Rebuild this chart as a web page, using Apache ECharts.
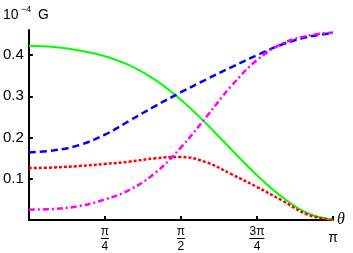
<!DOCTYPE html>
<html><head><meta charset="utf-8">
<script src="https://cdn.jsdelivr.net/npm/echarts@6/dist/echarts.min.js"></script>
<style>html,body{margin:0;padding:0;background:#fff}#c{width:353px;height:253px}</style>
</head><body><div id="c"></div>
<script>
// theta values in units of pi/12
const thetaSteps = [0,1,2,3,4,5,6,7,8,9,10,11,12];
const green   = [0.4225,0.4195,0.4115,0.3975,0.3745,0.3395,0.2915,0.2335,0.1705,0.1085,0.0555,0.0165,0.0];
const blue    = [0.164,0.169,0.182,0.207,0.242,0.277,0.310,0.341,0.371,0.400,0.426,0.444,0.454];
const red     = [0.126,0.1275,0.131,0.136,0.142,0.150,0.153,0.140,0.111,0.080,0.047,0.013,0.0];
const magenta = [0.025,0.027,0.034,0.050,0.074,0.115,0.176,0.250,0.326,0.388,0.428,0.447,0.455];
const yTicks = [0.1,0.2,0.3,0.4];
const xTickLabels = {1:'{n|π}\n{bar| }\n{d|4}',2:'{n|π}\n{bar| }\n{d|2}',3:'{n|3π}\n{bar2| }\n{d|4}',4:'{p|π}'};

const toPairs = arr => arr.map((v,i)=>[thetaSteps[i]*Math.PI/12, v]);
const chart = echarts.init(document.getElementById('c'));
const F = 'Liberation Sans, Arial, sans-serif';
chart.setOption({
  animation:false,
  grid:{left:26,right:20,top:30,bottom:32.5,containLabel:false},
  xAxis:{type:'value',min:0,max:Math.PI,interval:Math.PI/4,
    name:'θ',nameLocation:'end',nameGap:4,
    nameTextStyle:{fontFamily:'Liberation Serif, serif',fontStyle:'italic',fontSize:16,color:'#000',verticalAlign:'middle',padding:[2,0,0,0]},
    axisLine:{lineStyle:{color:'#000',width:2}},
    axisTick:{inside:true,length:4,lineStyle:{color:'#000',width:2}},
    splitLine:{show:false},
    axisLabel:{margin:7,showMinLabel:false,color:'#000',fontFamily:F,
      formatter:(v)=>{const k=Math.round(v/(Math.PI/4));return xTickLabels[k]||'';},
      rich:{
        n:{fontSize:12,lineHeight:10,fontFamily:F,color:'#000',align:'center'},
        d:{fontSize:12,lineHeight:14,fontFamily:F,color:'#000',align:'center'},
        bar:{width:8,height:1,lineHeight:3,backgroundColor:'#000',fontSize:1,align:'center'},
        bar2:{width:15,height:1,lineHeight:3,backgroundColor:'#000',fontSize:1,align:'center'},
        p:{fontSize:14,lineHeight:22,fontFamily:F,color:'#000',align:'center'}
      }}
  },
  yAxis:{type:'value',min:0,max:0.461,interval:0.1,
    axisLine:{show:true,lineStyle:{color:'#000',width:2}},
    axisTick:{inside:true,length:4,lineStyle:{color:'#000',width:2}},
    splitLine:{show:false},
    axisLabel:{margin:5,showMinLabel:false,showMaxLabel:false,color:'#000',fontFamily:F,fontSize:15,
      formatter:(v)=>{const t=yTicks.find(x=>Math.abs(x-v)<1e-6);return t!==undefined?t.toFixed(1):'';}}
  },
  graphic:[
    {type:'text',left:3,top:8,style:{text:'10',font:'14px '+F,fill:'#000'}},
    {type:'text',left:21,top:5,style:{text:'−4',font:'9px '+F,fill:'#000'}},
    {type:'text',left:38,top:8,style:{text:'G',font:'14px '+F,fill:'#000'}}
  ],
  series:[
    {type:'line',data:toPairs(green),smooth:0.4,symbol:'none',lineStyle:{color:'#00ff00',width:2}},
    {type:'line',data:toPairs(blue),smooth:0.4,symbol:'none',lineStyle:{color:'#0000ff',width:2.5,type:[7,4]}},
    {type:'line',data:toPairs(red),smooth:0.4,symbol:'none',lineStyle:{color:'#ff0000',width:2.5,type:[3,2]}},
    {type:'line',data:toPairs(magenta),smooth:0.4,symbol:'none',lineStyle:{color:'#ff00ff',width:2.5,type:[6,3,2,3]}}
  ]
});
</script></body></html>
